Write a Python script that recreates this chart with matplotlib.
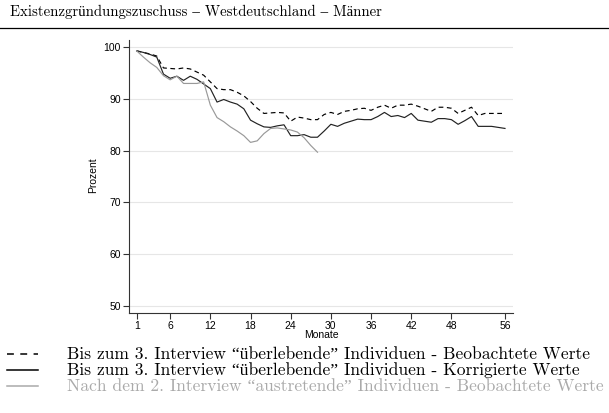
import matplotlib
matplotlib.use("Agg")
import matplotlib.pyplot as plt
from matplotlib.lines import Line2D

months = list(range(1, 57))
beobachtet = [99.3, 99.0, 98.7, 98.3, 96.0, 95.9, 95.8, 96.0, 95.8, 95.2,
              94.6, 93.3, 92.0, 91.8, 91.8, 91.3, 90.6, 89.5, 88.2, 87.2,
              87.3, 87.4, 87.3, 85.7, 86.5, 86.3, 86.0, 86.0, 87.0, 87.4,
              87.0, 87.6, 87.8, 88.1, 88.2, 87.8, 88.4, 88.8, 88.2, 88.8,
              88.8, 89.0, 88.6, 88.1, 87.6, 88.4, 88.4, 88.2, 87.2, 87.8,
              88.4, 86.8, 87.2, 87.2, 87.2, 87.2]
korrigiert = [99.3, 99.0, 98.6, 98.1, 94.8, 94.0, 94.4, 93.6, 94.4, 93.8,
              92.9, 92.0, 89.4, 89.9, 89.4, 89.0, 88.1, 85.9, 85.2, 84.6,
              84.5, 84.8, 85.0, 82.9, 82.9, 83.1, 82.6, 82.6, 83.8, 85.1,
              84.7, 85.3, 85.7, 86.1, 86.0, 86.0, 86.6, 87.4, 86.6, 86.8,
              86.4, 87.2, 85.9, 85.7, 85.5, 86.2, 86.2, 86.0, 85.1, 85.8,
              86.6, 84.7, 84.7, 84.7, 84.5, 84.3]
months_aus = list(range(1, 29))
austretend = [99.3, 98.1, 97.0, 96.1, 94.5, 93.7, 94.4, 93.0, 93.0, 93.0,
              93.3, 88.8, 86.4, 85.6, 84.6, 83.8, 82.9, 81.6, 81.9, 83.3,
              84.3, 84.4, 84.2, 84.0, 83.6, 82.5, 81.0, 79.7]

xticks = [1, 6, 12, 18, 24, 30, 36, 42, 48, 56]
yticks = [50, 60, 70, 80, 90, 100]
title = "Existenzgründungszuschuss – Westdeutschland – Männer"
labels = ["Bis zum 3. Interview “überlebende” Individuen - Beobachtete Werte",
          "Bis zum 3. Interview “überlebende” Individuen - Korrigierte Werte",
          "Nach dem 2. Interview “austretende” Individuen - Beobachtete Werte"]

# cmr10 lacks the umlauts; Liberation Serif fills them in at a similar size
serif = ["cmr10", "Liberation Serif", "DejaVu Serif"]
sans = ["Liberation Sans", "DejaVu Sans"]

fig = plt.figure(figsize=(6.09, 4.13), dpi=100)
ax = fig.add_axes([0.2118, 0.2421, 0.6306, 0.661])

ax.plot(months, beobachtet, color="black", lw=0.85, ls=(0, (4, 3)))
ax.plot(months, korrigiert, color="#222222", lw=0.85)
ax.plot(months_aus, austretend, color="#999999", lw=0.85)

ax.set_xlim(-0.15, 57.2)
ax.set_ylim(48.6, 101.4)
ax.set_xticks(xticks)
ax.set_yticks(yticks)
for lab in ax.get_xticklabels() + ax.get_yticklabels():
    lab.set_family(sans)
    lab.set_fontsize(7.5)
ax.tick_params(length=4, width=0.8, color="#333333", pad=2)
ax.grid(axis="y", color="#e6e6e6", lw=0.8)
ax.set_axisbelow(True)
for s in ["top", "right"]:
    ax.spines[s].set_visible(False)
for s in ["left", "bottom"]:
    ax.spines[s].set_color("#333333")
    ax.spines[s].set_linewidth(0.8)

fig.text(93 / 609, 1 - 175 / 413, "Prozent", rotation=90, ha="center",
         va="center", family=sans, fontsize=7.5)
fig.text(321 / 609, 1 - 335 / 413, "Monate", ha="center", va="center",
         family=sans, fontsize=7.5)

fig.text(10 / 609, 1 - 12 / 413, title, ha="left", va="center",
         family=serif, fontsize=10.7)
fig.add_artist(Line2D([0, 1], [1 - 28 / 413] * 2, color="black", lw=0.9))

rows_y = [354, 370, 386]
styles = [dict(color="black", ls=(0, (4.5, 4.2))), dict(color="black", ls="-"),
          dict(color="#aaaaaa", ls="-")]
text_colors = ["black", "black", "#aaaaaa"]
for y, lab, st, tc in zip(rows_y, labels, styles, text_colors):
    yf = 1 - y / 413
    fig.add_artist(Line2D([7 / 609, 38 / 609], [yf, yf], lw=1.1, **st))
    fig.text(67 / 609, yf, lab, ha="left", va="center", family=serif,
             fontsize=12.6, color=tc)

fig.savefig("out.png", dpi=100)
